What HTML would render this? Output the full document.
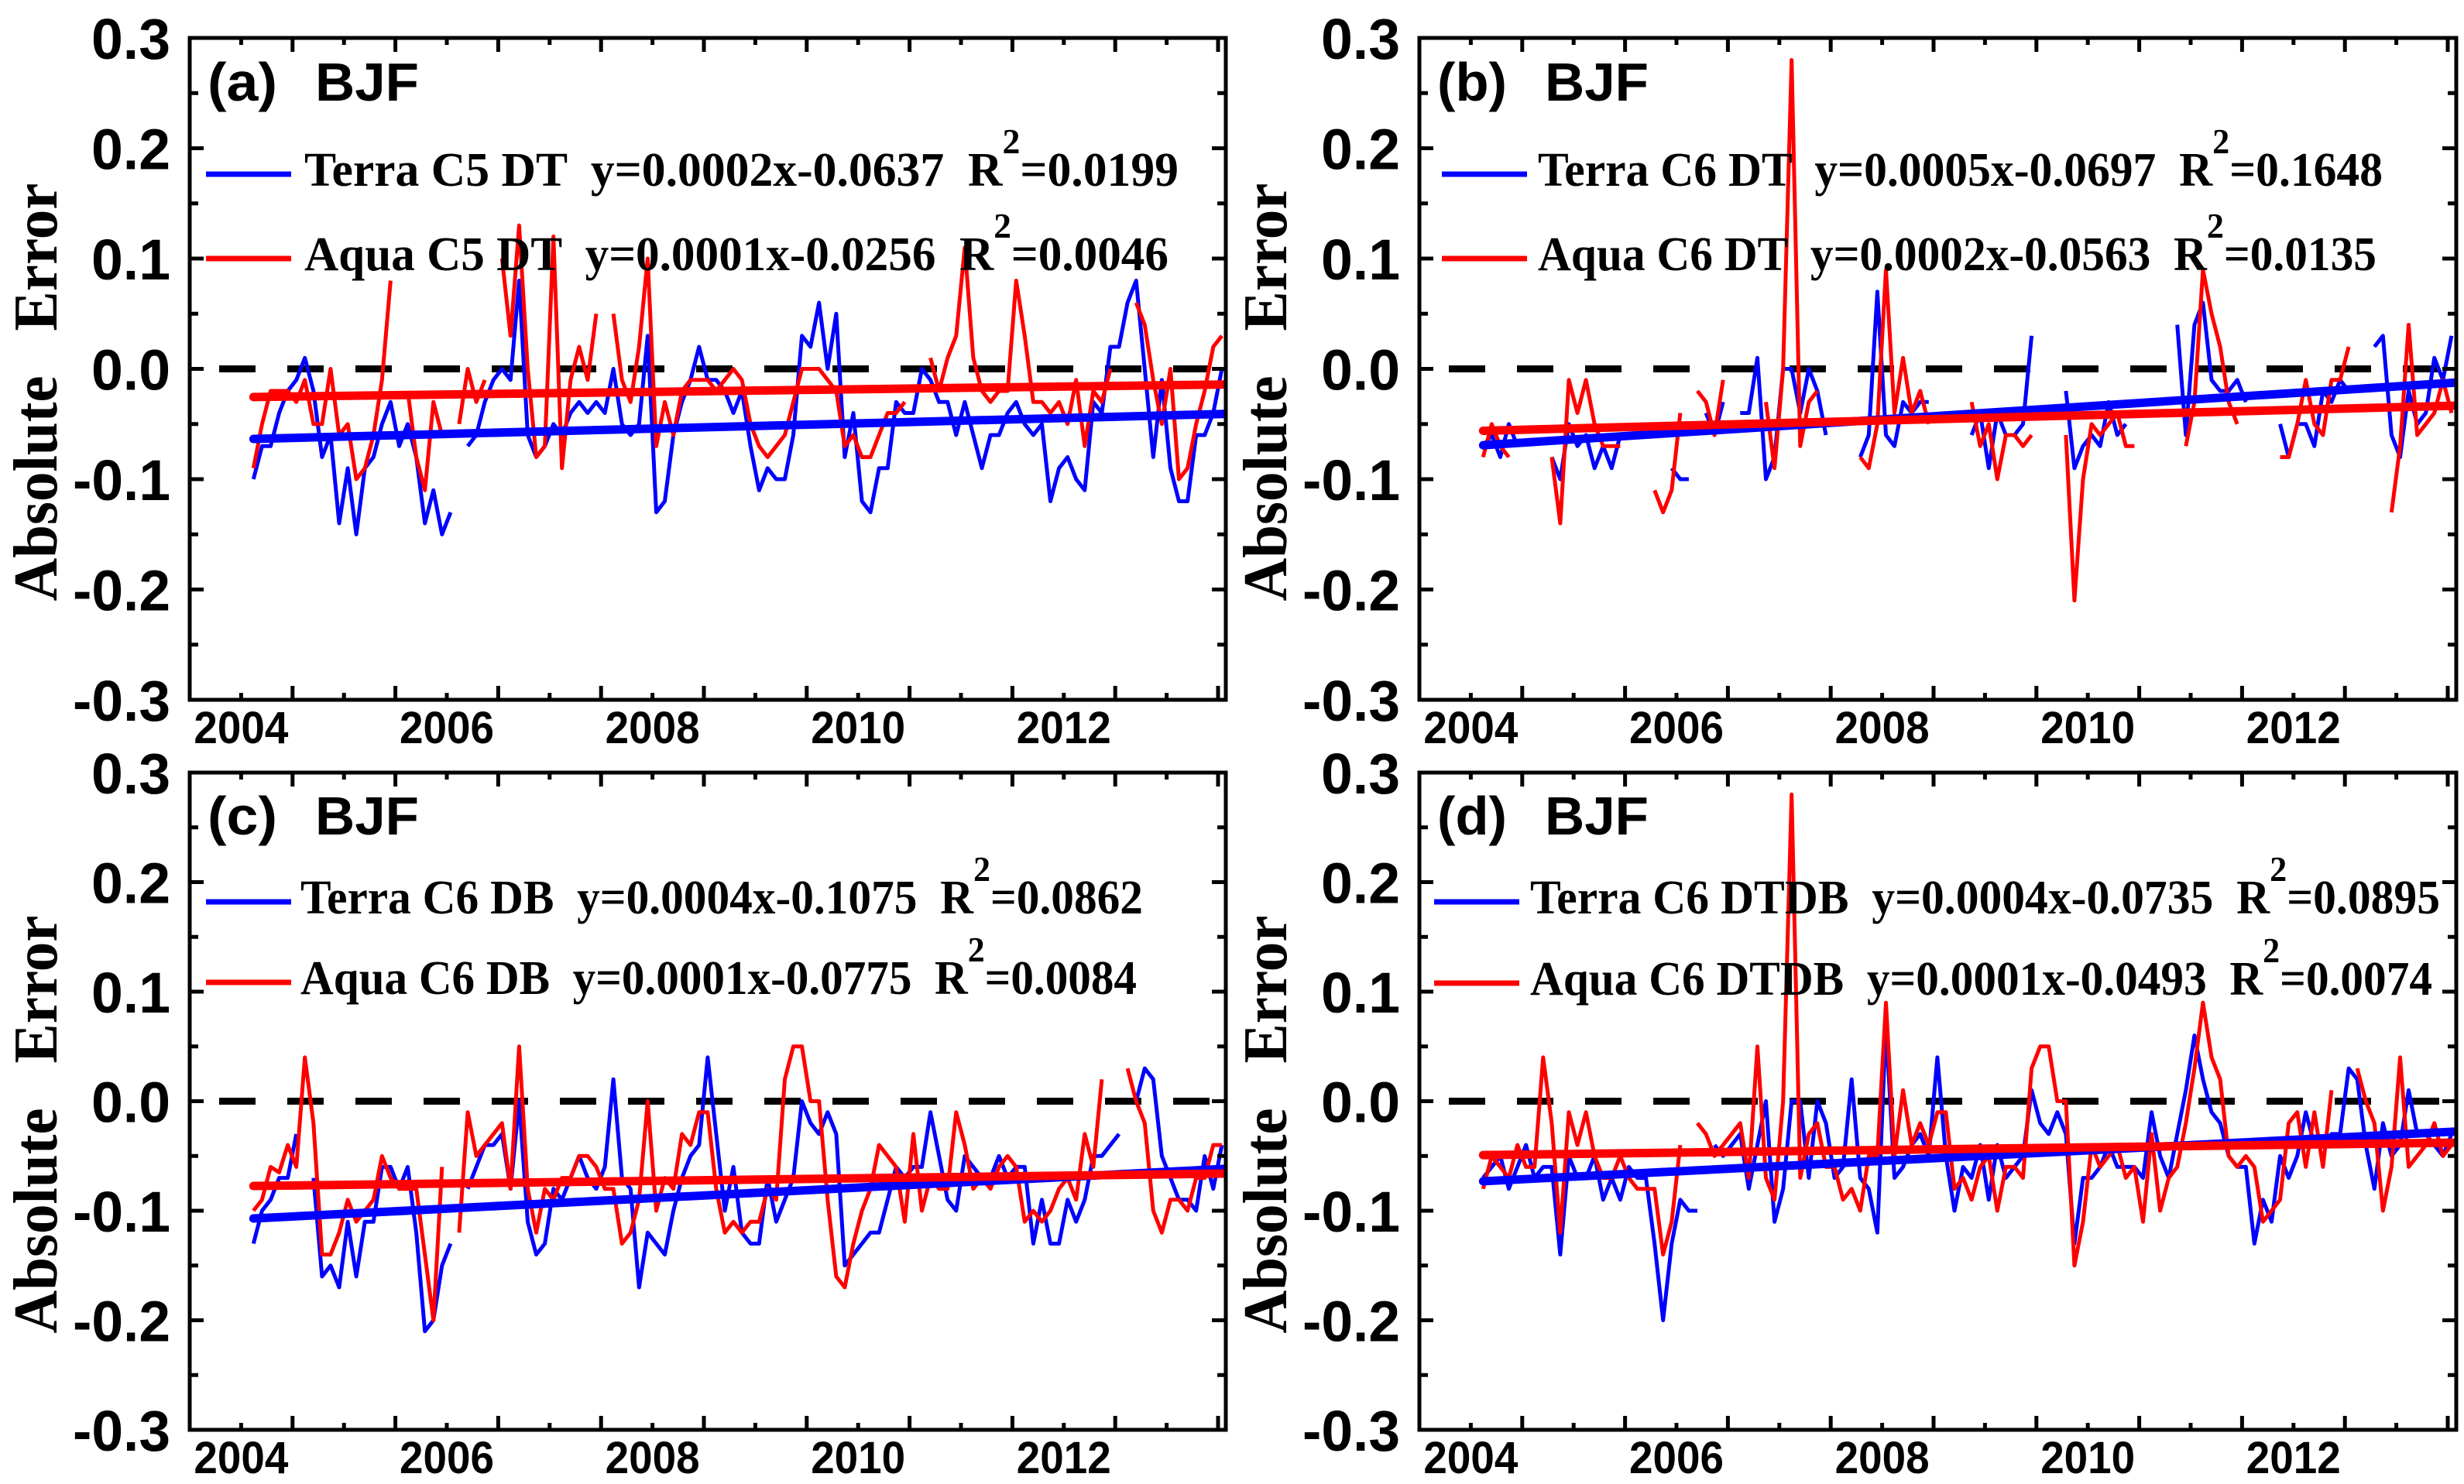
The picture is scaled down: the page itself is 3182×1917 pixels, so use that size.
<!DOCTYPE html>
<html><head><meta charset="utf-8"><style>
html,body{margin:0;padding:0;background:#fff;}
svg{display:block;}
text{white-space:pre;}
</style></head>
<body>
<svg id="chart" xmlns="http://www.w3.org/2000/svg" width="3182" height="1917" viewBox="0 0 3182 1917"></svg>
<script>
// ---- Data (monthly absolute errors, index k -> 2004.12 + k/12) ----
const terraA = [-0.10,-0.07,-0.07,-0.04,-0.02,-0.01,0.01,-0.02,-0.08,-0.06,-0.14,-0.09,-0.15,-0.09,-0.08,-0.05,-0.03,-0.07,-0.05,-0.08,-0.14,-0.11,-0.15,-0.13,null,-0.07,-0.06,-0.03,-0.01,0.00,-0.01,0.08,-0.06,-0.08,-0.07,-0.05,-0.06,-0.04,-0.03,-0.04,-0.03,-0.04,0.00,-0.05,-0.06,-0.05,0.03,-0.13,-0.12,-0.06,-0.03,-0.01,0.02,-0.01,-0.01,-0.02,-0.04,-0.02,-0.07,-0.11,-0.09,-0.10,-0.10,-0.06,0.03,0.02,0.06,0.00,0.05,-0.08,-0.04,-0.12,-0.13,-0.09,-0.09,-0.03,-0.04,-0.04,0.00,-0.01,-0.03,-0.03,-0.06,-0.03,-0.06,-0.09,-0.06,-0.06,-0.04,-0.03,-0.05,-0.06,-0.05,-0.12,-0.09,-0.08,-0.10,-0.11,-0.03,-0.04,0.02,0.02,0.06,0.08,0.00,-0.08,-0.01,-0.09,-0.12,-0.12,-0.06,-0.06,-0.04,0.00];
const aquaA = [-0.09,-0.05,-0.02,-0.02,-0.02,-0.03,-0.01,-0.05,-0.05,0.00,-0.06,-0.05,-0.10,-0.09,-0.06,-0.01,0.08,null,-0.02,-0.08,-0.11,-0.03,-0.06,null,-0.05,0.00,-0.03,-0.01,null,0.10,0.03,0.13,0.00,-0.08,-0.07,0.12,-0.09,-0.01,0.02,-0.01,0.05,null,0.05,-0.01,-0.03,0.02,0.10,-0.07,-0.03,-0.06,-0.02,-0.01,-0.01,-0.01,-0.02,-0.01,0.00,-0.01,-0.05,-0.07,-0.08,-0.07,-0.06,-0.03,0.00,0.00,0.00,-0.01,-0.02,-0.07,-0.06,-0.08,-0.08,-0.06,-0.04,-0.04,-0.03,null,null,0.01,-0.02,0.01,0.03,0.11,0.01,-0.02,-0.03,-0.02,-0.02,0.08,0.03,-0.03,-0.03,-0.04,-0.03,-0.05,-0.01,-0.07,-0.02,-0.03,0.00,null,null,0.06,0.04,-0.01,-0.05,0.00,-0.10,-0.09,-0.05,-0.02,0.02,0.03];
const terraB = [-0.07,-0.06,-0.08,-0.05,-0.07,null,null,null,-0.08,-0.10,-0.05,-0.07,-0.06,-0.09,-0.07,-0.09,-0.06,null,null,null,null,null,-0.09,-0.10,-0.10,null,-0.04,-0.06,-0.03,null,-0.04,-0.04,0.01,-0.10,-0.08,0.00,0.00,-0.04,0.00,-0.02,-0.06,null,null,null,-0.08,-0.06,0.07,-0.06,-0.07,-0.03,-0.04,-0.03,-0.03,null,null,null,null,-0.06,-0.04,-0.09,-0.04,-0.06,-0.06,-0.05,0.03,null,null,null,-0.02,-0.09,-0.07,-0.06,-0.07,-0.03,-0.06,-0.05,null,null,null,null,null,0.04,-0.06,0.04,0.06,-0.01,-0.02,-0.02,-0.01,-0.03,null,null,null,-0.05,-0.08,-0.05,-0.05,-0.07,-0.02,-0.03,-0.01,-0.02,null,null,0.02,0.03,-0.06,-0.08,-0.02,-0.05,-0.04,0.01,-0.01,0.03];
const aquaB = [-0.08,-0.05,-0.07,-0.08,null,null,null,null,-0.08,-0.14,-0.01,-0.04,-0.01,-0.05,-0.07,-0.07,-0.07,null,null,null,-0.11,-0.13,-0.11,-0.04,null,-0.02,-0.03,-0.06,-0.01,null,null,null,null,-0.03,-0.09,0.00,0.28,-0.07,-0.03,-0.02,null,null,null,null,-0.08,-0.09,-0.05,0.09,-0.04,0.01,-0.04,-0.02,-0.05,null,null,null,null,-0.03,-0.07,-0.05,-0.10,-0.06,-0.06,-0.07,-0.06,null,null,null,-0.06,-0.21,-0.10,-0.05,-0.06,-0.05,-0.04,-0.07,-0.07,null,null,null,null,null,-0.07,-0.03,0.09,0.05,0.02,-0.03,-0.05,null,null,null,null,-0.08,-0.08,-0.05,-0.01,-0.05,-0.06,-0.01,-0.01,0.02,null,null,null,null,-0.13,-0.07,0.04,-0.06,-0.05,-0.04,-0.01,-0.04];
const terraC = [-0.13,-0.10,-0.09,-0.07,-0.07,-0.03,null,-0.07,-0.16,-0.15,-0.17,-0.11,-0.16,-0.11,-0.11,-0.06,-0.06,-0.08,-0.06,-0.12,-0.21,-0.20,-0.15,-0.13,null,-0.08,-0.06,-0.04,-0.04,-0.03,-0.08,0.00,-0.11,-0.14,-0.13,-0.08,-0.09,-0.07,-0.05,-0.07,-0.08,-0.06,0.02,-0.07,-0.08,-0.17,-0.12,-0.13,-0.14,-0.10,-0.07,-0.05,-0.04,0.04,-0.03,-0.10,-0.06,-0.12,-0.13,-0.13,-0.07,-0.11,-0.09,-0.07,0.00,-0.02,-0.03,-0.01,-0.03,-0.15,-0.14,-0.13,-0.12,-0.12,-0.09,-0.06,-0.07,-0.06,-0.06,-0.01,-0.05,-0.09,-0.10,-0.05,-0.06,-0.07,-0.07,-0.05,-0.07,-0.06,-0.06,-0.13,-0.09,-0.13,-0.13,-0.09,-0.11,-0.09,-0.05,-0.05,-0.04,-0.03,null,0.00,0.03,0.02,-0.05,-0.07,-0.09,-0.09,-0.10,-0.05,-0.08,-0.04];
const aquaC = [-0.10,-0.09,-0.06,-0.065,-0.04,-0.06,0.04,-0.02,-0.14,-0.14,-0.12,-0.09,-0.11,-0.10,-0.09,-0.05,-0.07,-0.08,-0.08,-0.08,-0.14,-0.20,-0.06,null,-0.12,-0.01,-0.05,-0.04,-0.03,-0.02,-0.08,0.05,-0.08,-0.12,-0.08,-0.09,-0.07,-0.07,-0.05,-0.05,-0.06,-0.08,-0.08,-0.13,-0.12,-0.09,0.00,-0.10,-0.07,-0.08,-0.03,-0.04,-0.01,-0.01,-0.08,-0.12,-0.11,-0.12,-0.11,-0.11,-0.08,-0.09,0.02,0.05,0.05,0.00,0.00,-0.09,-0.16,-0.17,-0.13,-0.10,-0.08,-0.04,-0.05,-0.06,-0.11,-0.03,-0.10,-0.07,-0.08,-0.08,-0.01,-0.04,-0.08,-0.07,-0.08,-0.06,-0.05,-0.06,-0.11,-0.10,-0.11,-0.10,-0.08,-0.07,-0.09,-0.03,-0.06,0.02,null,null,0.03,0.00,-0.02,-0.10,-0.12,-0.09,-0.09,-0.10,-0.07,-0.07,-0.04,-0.04];
const terraD = [-0.07,-0.06,-0.05,-0.08,-0.06,-0.04,-0.07,-0.06,-0.06,-0.14,-0.05,-0.07,-0.07,-0.05,-0.09,-0.07,-0.09,-0.06,-0.07,-0.07,-0.13,-0.20,-0.13,-0.09,-0.10,-0.10,null,-0.04,-0.05,-0.04,-0.03,-0.08,-0.04,0.00,-0.11,-0.08,0.00,0.00,-0.07,0.00,-0.02,-0.07,-0.06,0.02,-0.07,-0.08,-0.12,0.07,-0.07,-0.06,-0.04,-0.03,-0.05,0.04,-0.05,-0.10,-0.06,-0.07,-0.04,-0.09,-0.04,-0.07,-0.06,-0.05,0.01,-0.02,-0.03,-0.01,-0.03,-0.13,-0.07,-0.07,-0.06,-0.04,-0.06,-0.06,-0.06,-0.07,-0.01,-0.05,-0.07,-0.03,0.01,0.06,0.02,-0.01,-0.02,-0.05,-0.06,-0.06,-0.13,-0.09,-0.11,-0.05,-0.07,-0.05,-0.01,-0.04,-0.04,-0.03,-0.03,0.03,0.02,-0.04,-0.08,-0.02,-0.05,-0.04,0.01,-0.03,-0.03,-0.04,-0.05,-0.03];
const aquaD = [-0.08,-0.05,-0.06,-0.07,-0.04,-0.06,-0.06,0.04,-0.02,-0.12,-0.01,-0.04,-0.01,-0.05,-0.07,-0.07,-0.05,-0.07,-0.08,-0.08,-0.08,-0.14,-0.11,-0.04,null,-0.02,-0.03,-0.05,-0.04,-0.03,-0.02,-0.07,0.05,-0.07,-0.09,0.00,0.28,-0.07,-0.03,-0.02,-0.06,-0.06,-0.09,-0.08,-0.10,-0.05,-0.05,0.09,-0.05,0.01,-0.04,-0.02,-0.04,-0.01,-0.01,-0.08,-0.07,-0.09,-0.06,-0.05,-0.10,-0.06,-0.06,-0.07,0.03,0.05,0.05,0.00,0.00,-0.15,-0.11,-0.04,-0.06,-0.05,-0.04,-0.07,-0.06,-0.11,-0.03,-0.10,-0.07,-0.06,-0.02,0.03,0.09,0.04,0.02,-0.05,-0.06,-0.05,-0.06,-0.11,-0.10,-0.09,-0.02,-0.01,-0.06,-0.01,-0.06,0.01,null,null,0.03,0.00,-0.02,-0.10,-0.06,0.04,-0.06,-0.05,-0.04,-0.02,-0.05,-0.04];

const trendSlopes = [[0.0002,0.0001],[0.0005,0.0002],[0.0004,0.0001],[0.0004,0.0001]];
const trendIntercepts = [[-0.0637,-0.0256],[-0.0697,-0.0563],[-0.1075,-0.0775],[-0.0735,-0.0493]];
const yTicks = [0.3,0.2,0.1,0.0,-0.1,-0.2,-0.3];
const yTickLabels = ["0.3","0.2","0.1","0.0","-0.1","-0.2","-0.3"];
const xTickYears = [2004,2006,2008,2010,2012];
const panelLetters = ["(a)","(b)","(c)","(d)"];
const legendTerra = ["Terra C5 DT  y=0.0002x-0.0637  R","Terra C6 DT  y=0.0005x-0.0697  R","Terra C6 DB  y=0.0004x-0.1075  R","Terra C6 DTDB  y=0.0004x-0.0735  R"];
const legendAqua = ["Aqua C5 DT  y=0.0001x-0.0256  R","Aqua C6 DT  y=0.0002x-0.0563  R","Aqua C6 DB  y=0.0001x-0.0775  R","Aqua C6 DTDB  y=0.0001x-0.0493  R"];
const r2Terra = ["=0.0199","=0.1648","=0.0862","=0.0895"];
const r2Aqua = ["=0.0046","=0.0135","=0.0084","=0.0074"];
const seriesTerra = [terraA,terraB,terraC,terraD];
const seriesAqua = [aquaA,aquaB,aquaC,aquaD];

const NS = "http://www.w3.org/2000/svg";
const svg = document.getElementById('chart');
function mk(tag, attrs, parent){
  const e = document.createElementNS(NS, tag);
  for (const k in attrs) e.setAttribute(k, attrs[k]);
  (parent||svg).appendChild(e);
  return e;
}
const layouts = [
  {L:245,R:1583,T:49,B:904, legX:266, legTX:393, legW1:1129, legW2:1116, ly1:240, ly2:349, lab:130},
  {L:1833,R:3172,T:49,B:904, legX:1862, legTX:1986, legW1:1091, legW2:1083, ly1:240, ly2:349, lab:130},
  {L:245,R:1583,T:998,B:1847, legX:266, legTX:388, legW1:1088, legW2:1080, ly1:1180, ly2:1284, lab:1078},
  {L:1833,R:3172,T:998,B:1847, legX:1852, legTX:1976, legW1:1175, legW2:1165, ly1:1180, ly2:1285, lab:1078}
];
const XMIN = 2003.5, PXYR = 132.8;
function labelLen(s){let n=0;for(const c of s){n+= c==='.'?20:(c==='-'?24:41);}return n;}

layouts.forEach((P,pi)=>{
  const g = mk('g',{});
  
  
  const xs = yr => P.L + (yr - XMIN)*PXYR;
  const ys = v => P.T + (0.3 - v)/0.6*(P.B-P.T);
  const xk = k => xs(2004.12 + k/12);

  const z = mk('line',{x1:P.L,x2:P.R,y1:ys(0),y2:ys(0),stroke:'#000','stroke-width':9,'stroke-dasharray':'47 41','stroke-dashoffset':'-38','stroke-linecap':'butt'},g);
  
  

  [[seriesTerra[pi],'#0000ff','terra'],[seriesAqua[pi],'#ff0000','aqua']].forEach(([arr,col,nm])=>{
    let d='', pen=false;
    arr.forEach((v,k)=>{
      if(v===null){pen=false;return;}
      d += (pen?'L':'M') + xk(k).toFixed(1)+' '+ys(v).toFixed(1)+' ';
      pen=true;
    });
    const p = mk('path',{d:d,fill:'none',stroke:col,'stroke-width':5,'stroke-linejoin':'round'},g);
    
    
  });
  [[0,'#0000ff','terra',seriesTerra[pi]],[1,'#ff0000','aqua',seriesAqua[pi]]].forEach(([j,col,nm,arr])=>{
    const n = arr.length-1;
    const a = trendSlopes[pi][j], b = trendIntercepts[pi][j];
    const t = mk('line',{x1:xk(0),y1:ys(a*1+b),x2:P.R-3,y2:ys(a*(n+1+ (P.R-3-xk(n))/PXYR*12)+b),stroke:col,'stroke-width':11,'stroke-linecap':'round'},g);
    
    
  });

  const f = mk('rect',{x:P.L,y:P.T,width:P.R-P.L,height:P.B-P.T,fill:'none',stroke:'#000','stroke-width':5},g);
  
  
  for(let i=0;i<=12;i++){
    const v = 0.3 - i*0.05, y = ys(v), len = (i%2===0)?18:11;
    mk('line',{x1:P.L,x2:P.L+len,y1:y,y2:y,stroke:'#000','stroke-width':5},g);
    mk('line',{x1:P.R,x2:P.R-len,y1:y,y2:y,stroke:'#000','stroke-width':5},g);
  }
  for(let yr=2004; yr<=2013.5; yr+=0.5){
    const x = xs(yr), len = (yr%1===0)?9:18;
    mk('line',{x1:x,x2:x,y1:P.B,y2:P.B-len,stroke:'#000','stroke-width':5},g);
    mk('line',{x1:x,x2:x,y1:P.T,y2:P.T+len,stroke:'#000','stroke-width':5},g);
  }
  yTicks.forEach((v,i)=>{
    const s = yTickLabels[i];
    const t = mk('text',{x:P.L-25,y:ys(v)+27,'text-anchor':'end','font-family':'"Liberation Sans",sans-serif','font-weight':'bold','font-size':74,textLength:labelLen(s),lengthAdjust:'spacingAndGlyphs'},g);
    t.textContent = s;
    
    
  });
  xTickYears.forEach(yr=>{
    const t = mk('text',{x:xs(yr),y:P.B+56,'text-anchor':'middle','font-family':'"Liberation Sans",sans-serif','font-weight':'bold','font-size':58,textLength:122,lengthAdjust:'spacingAndGlyphs'},g);
    t.textContent = String(yr);
    
    
  });
  const cy = (P.T+P.B)/2 + 30, cx = P.L - 172;
  const yt = mk('text',{x:cx,y:cy,'text-anchor':'middle','font-family':'"Liberation Serif",serif','font-weight':'bold','font-size':80,textLength:540,lengthAdjust:'spacingAndGlyphs',transform:`rotate(-90 ${cx} ${cy})`},g);
  yt.textContent = 'Absolute   Error';
  
  
  const pl = mk('text',{x:P.L+23,y:P.lab,'font-family':'"Liberation Sans",sans-serif','font-weight':'bold','font-size':70,textLength:90,lengthAdjust:'spacingAndGlyphs'},g);
  pl.textContent = panelLetters[pi];
  
  
  const bj = mk('text',{x:P.L+162,y:P.lab,'font-family':'"Liberation Sans",sans-serif','font-weight':'bold','font-size':70,textLength:134,lengthAdjust:'spacingAndGlyphs'},g);
  bj.textContent = 'BJF';
  
  
  [[legendTerra[pi],r2Terra[pi],'#0000ff',P.ly1,P.legW1,'legend-terra'],[legendAqua[pi],r2Aqua[pi],'#ff0000',P.ly2,P.legW2,'legend-aqua']].forEach(([txt,r2,col,by,w,nm])=>{
    const lg = mk('g',{},g);
    
    
    mk('line',{x1:P.legX,x2:P.legX+110,y1:by-15,y2:by-15,stroke:col,'stroke-width':7},lg);
    const t = mk('text',{x:P.legTX,y:by,'font-family':'"Liberation Serif",serif','font-weight':'bold','font-size':62,textLength:w,lengthAdjust:'spacingAndGlyphs'},lg);
    t.appendChild(document.createTextNode(txt));
    const sup = mk('tspan',{dy:-42,'font-size':46},t); sup.textContent='2';
    const rest = mk('tspan',{dy:42},t); rest.textContent=r2;
  });
});
</script>
</body></html>
